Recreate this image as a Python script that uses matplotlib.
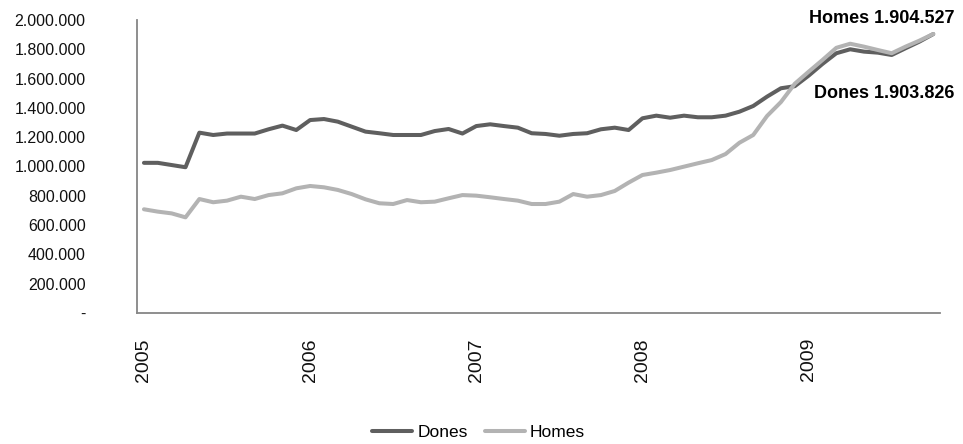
import matplotlib
matplotlib.use('Agg')
import matplotlib.pyplot as plt
from matplotlib.ticker import FuncFormatter, FixedLocator
from matplotlib import font_manager

# Monthly series, Jan 2005 - Oct 2009
years = ['2005', '2006', '2007', '2008', '2009']
dones = [1025000, 1025000, 1010000, 995000, 1231000, 1215000, 1225000, 1225000,
         1225000, 1254000, 1279000, 1249000,
         1317000, 1324000, 1306000, 1272000, 1238000, 1227000, 1215000, 1215000,
         1215000, 1242000, 1256000, 1225000,
         1276000, 1288000, 1276000, 1265000, 1227000, 1222000, 1210000, 1222000,
         1227000, 1254000, 1265000, 1249000,
         1329000, 1347000, 1333000, 1347000, 1336000, 1336000, 1347000, 1374000,
         1413000, 1477000, 1534000, 1548000,
         1620000, 1700000, 1773000, 1800000, 1784000, 1777000, 1761000, 1807000,
         1852000, 1903826]
homes = [708000, 692000, 680000, 653000, 778000, 756000, 767000, 794000,
         778000, 805000, 817000, 851000,
         867000, 858000, 840000, 812000, 776000, 749000, 744000, 771000,
         756000, 760000, 783000, 805000,
         801000, 790000, 778000, 767000, 744000, 744000, 760000, 812000,
         794000, 805000, 833000, 890000,
         942000, 958000, 976000, 999000, 1022000, 1044000, 1085000, 1162000,
         1215000, 1345000, 1440000, 1565000,
         1647000, 1727000, 1810000, 1838000, 1818000, 1795000, 1773000, 1818000,
         1859000, 1904527]

DARK = '#5f5f5f'
LIGHT = '#b3b3b3'
AXIS = '#868686'

names = {f.name for f in font_manager.fontManager.ttflist}
NARROW = ['Liberation Sans Narrow', 'Liberation Sans', 'DejaVu Sans']
NARROW = [f for f in NARROW if f in names] or ['DejaVu Sans']
REGULAR = [f for f in ['Liberation Sans', 'DejaVu Sans'] if f in names]
plt.rcParams['font.family'] = REGULAR


def fmt(v, pos):
    if v == 0:
        return '-'
    return f'{int(v):,}'.replace(',', '.')


fig = plt.figure(figsize=(9.63, 4.44), dpi=100)
ax = fig.add_axes([0.1423, 0.295, 0.834, 0.66])

x = list(range(len(dones)))
ax.plot(x, dones, color=DARK, lw=2.9, solid_capstyle='round', label='Dones', zorder=3)
ax.plot(x, homes, color=LIGHT, lw=2.9, solid_capstyle='round', label='Homes', zorder=4)

ax.set_xlim(-0.5, len(dones) - 0.5)
ax.set_ylim(0, 2000000)
ax.yaxis.set_major_locator(FixedLocator(range(0, 2000001, 200000)))
ax.yaxis.set_major_formatter(FuncFormatter(fmt))
ax.set_xticks([12 * i for i in range(len(years))])
ax.set_xticklabels(years, rotation=90)

for s in ['top', 'right']:
    ax.spines[s].set_visible(False)
for s in ['left', 'bottom']:
    ax.spines[s].set_color(AXIS)
    ax.spines[s].set_linewidth(1.3)
ax.tick_params(axis='y', length=0, pad=37, labelsize=11.5, labelcolor='#111111')
ax.tick_params(axis='x', length=0, pad=18, labelsize=14, labelcolor='#111111')

# end-of-series labels
ax.annotate('Homes 1.904.527', xy=(x[-1], homes[-1]), xytext=(21, 15),
            textcoords='offset pixels', ha='right', va='center',
            fontsize=13, fontweight='bold', family=NARROW, color='black')
ax.annotate('Dones 1.903.826', xy=(x[-1], dones[-1]), xytext=(21, -59),
            textcoords='offset pixels', ha='right', va='center',
            fontsize=13, fontweight='bold', family=NARROW, color='black',
            annotation_clip=False)

fig.legend(loc='center', bbox_to_anchor=(0.497, 0.025), ncol=2, frameon=False,
           prop={'family': NARROW, 'size': 12.5}, handlelength=2.3,
           handletextpad=0.3, columnspacing=1.0)

fig.savefig('out.png', dpi=100, facecolor='white')
